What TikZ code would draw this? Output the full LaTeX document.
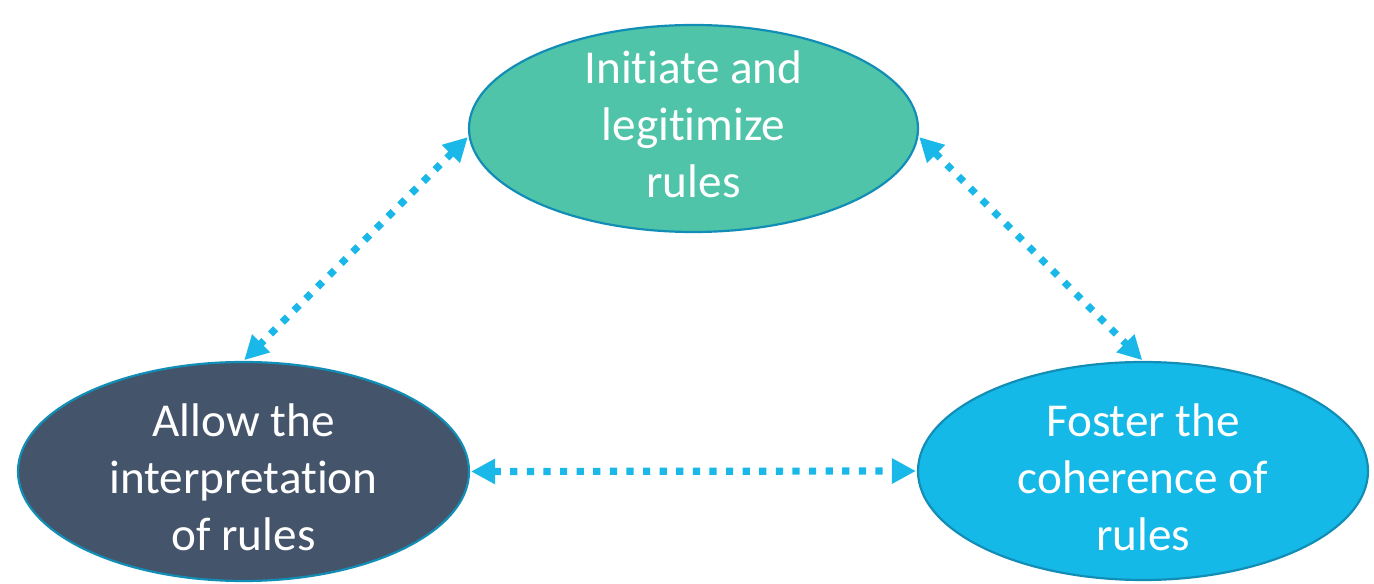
\documentclass[tikz,border=0pt]{standalone}
\usepackage{fontspec}
\setmainfont[Ligatures=NoCommon]{Carlito}
\usetikzlibrary{shapes.geometric,arrows.meta}
\definecolor{topfill}{RGB}{79,196,168}
\definecolor{leftfill}{RGB}{68,84,106}
\definecolor{rightfill}{RGB}{21,185,232}
\definecolor{outl}{RGB}{18,142,182}
\definecolor{arrowc}{RGB}{26,184,232}
\tikzset{
  bubble/.style={ellipse, draw=outl, line width=1.1pt, inner sep=0pt},
  caption/.style={text=white, align=center, inner sep=0pt,
    font=\fontsize{23.6}{28.5}\selectfont},
  link/.style={arrowc, line width=3.6pt, dash pattern=on 3.6pt off 4.7pt,
    {Triangle[length=12pt,width=12pt]}-{Triangle[length=12pt,width=12pt]}, shorten <=0.5pt, shorten >=0.5pt}
}
\begin{document}
\begin{tikzpicture}[x=1pt,y=1pt]
\useasboundingbox (0,0) rectangle (687,291.5);
\node[bubble, fill=topfill, minimum width=224.5pt, minimum height=103.5pt] (top) at (346.75,227.25) {};
\node[bubble, fill=leftfill, minimum width=225.5pt, minimum height=109.5pt] (left) at (121.75,55.75) {};
\node[bubble, fill=rightfill, minimum width=225pt, minimum height=109pt] (right) at (571.5,56) {};
\node[caption] (toptext) at ([yshift=2pt]top.center) {Initiate and\\legitimize\\rules};
\node[caption] (lefttext) at ([yshift=-3pt]left.center) {Allow the\\interpretation\\of rules};
\node[caption] (righttext) at ([yshift=-3pt]right.center) {Foster the\\coherence of\\rules};
\draw[link] (top.182) -- (left.north);
\draw[link] (top.-2) -- (right.north);
\draw[link] (left.east) -- (right.west);
\end{tikzpicture}
\end{document}
